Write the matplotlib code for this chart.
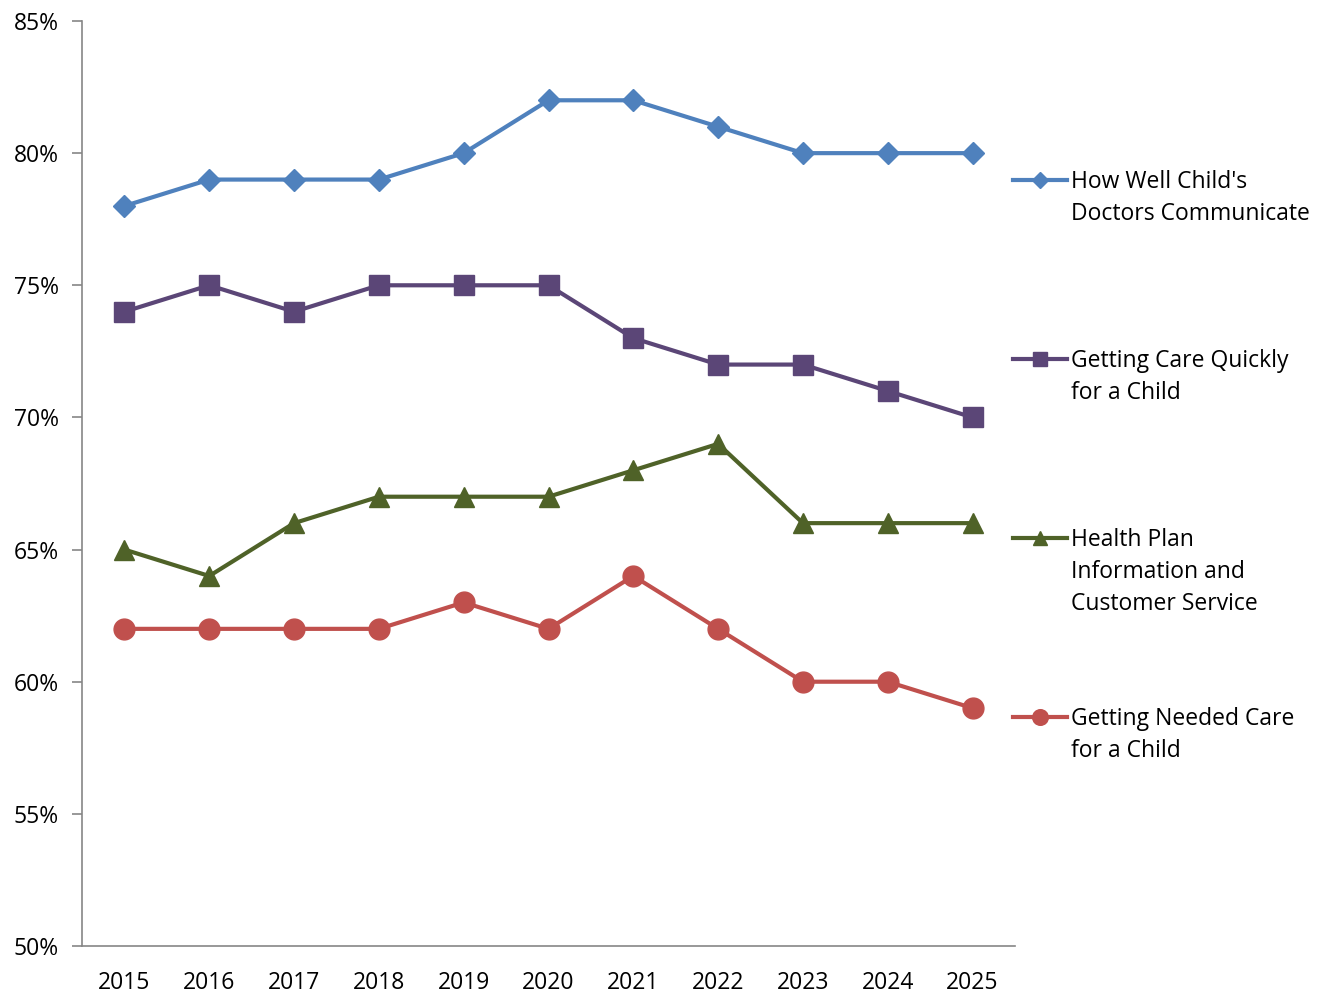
import matplotlib.pyplot as plt
from matplotlib.lines import Line2D
from matplotlib.ticker import FuncFormatter

# CAHPS child survey composite scores by year
years = ['2015', '2016', '2017', '2018', '2019', '2020',
         '2021', '2022', '2023', '2024', '2025']
doctors_communicate = [78, 79, 79, 79, 80, 82, 82, 81, 80, 80, 80]
care_quickly = [74, 75, 74, 75, 75, 75, 73, 72, 72, 71, 70]
plan_info = [65, 64, 66, 67, 67, 67, 68, 69, 66, 66, 66]
needed_care = [62, 62, 62, 62, 63, 62, 64, 62, 60, 60, 59]

labels = ["How Well Child's\nDoctors Communicate",
          "Getting Care Quickly\nfor a Child",
          "Health Plan\nInformation and\nCustomer Service",
          "Getting Needed Care\nfor a Child"]

plt.rcParams['font.family'] = ['Open Sans', 'DejaVu Sans']
FS = 16.5
LINE_PX = 32  # pixel step between wrapped label lines

series = [
    (doctors_communicate, '#4F81BD', 'D', 11),
    (care_quickly, '#5B4677', 's', 14),
    (plan_info, '#4F6228', '^', 14),
    (needed_care, '#C0504D', 'o', 15),
]

W, H = 1327, 993
fig = plt.figure(figsize=(W / 100, H / 100), dpi=100)
ax = fig.add_axes([82 / W, 1 - 946 / H, 933 / W, 925 / H])

x = list(range(len(years)))
for vals, color, marker, ms in series:
    ax.plot(x, vals, color=color, linewidth=3, marker=marker,
            markersize=ms, markeredgecolor=color, clip_on=False)

ax.set_xlim(-0.5, len(years) - 0.5)
ax.set_ylim(50, 85)
ax.set_yticks(range(50, 86, 5))
ax.yaxis.set_major_formatter(FuncFormatter(lambda v, p: f'{v:.0f}%'))
ax.set_xticks(x)
ax.set_xticklabels(years)

for side in ['top', 'right']:
    ax.spines[side].set_visible(False)
for side in ['left', 'bottom']:
    ax.spines[side].set_color('#868686')
    ax.spines[side].set_linewidth(1.2)
ax.tick_params(axis='y', direction='out', length=7.5, width=1.2,
               color='#868686', labelsize=FS, pad=9)
ax.tick_params(axis='x', length=0, labelsize=FS, pad=18)

# legend entries: short line with marker, label's first line level with it
legend_y = [180, 359, 538, 717]
for (vals, color, marker, ms), label, ly in zip(series, labels, legend_y):
    yf = 1 - ly / H
    fig.add_artist(Line2D([1013 / W, 1067 / W], [yf, yf], color=color,
                          linewidth=3, transform=fig.transFigure))
    fig.add_artist(Line2D([1040 / W], [yf], color=color, linestyle='none',
                          marker=marker, markersize=ms * 0.75,
                          markeredgecolor=color, transform=fig.transFigure))
    for i, line in enumerate(label.split('\n')):
        fig.text(1071 / W, 1 - (ly + 8 + i * LINE_PX) / H, line,
                 fontsize=FS, va='baseline', ha='left')

fig.savefig('out.png', dpi=100)
